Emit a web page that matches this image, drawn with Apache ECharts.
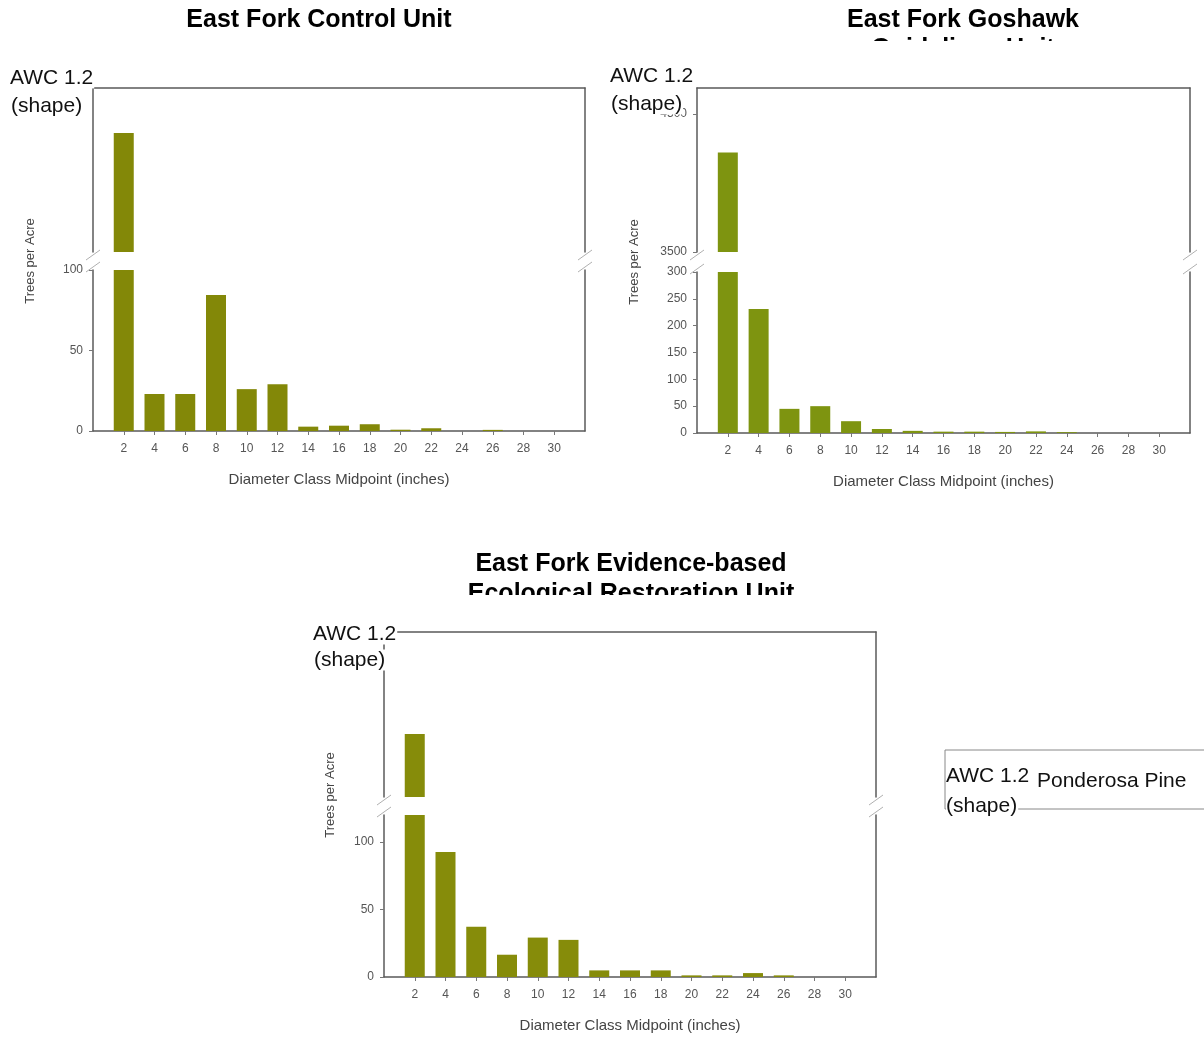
<!DOCTYPE html>
<html><head><meta charset="utf-8">
<script src="https://cdn.jsdelivr.net/npm/echarts@6/dist/echarts.min.js"></script>
<style>html,body{margin:0;padding:0;background:#fff}#c{width:1204px;height:1040px}</style>
</head><body><div id="c"></div>
<script>
// ---- data ----
const diameterClasses = [2, 4, 6, 8, 10, 12, 14, 16, 18, 20, 22, 24, 26, 28, 30];
const controlValues     = [490, 23, 23, 84.5, 26, 29, 2.7, 3.3, 4.2, 0.8, 1.7, 0, 0.7, 0, 0];
const goshawkValues     = [4220, 231, 45, 50, 22, 7.5, 4, 2.5, 2.5, 2, 3, 1.5, 0, 0, 0];
const restorationValues = [353, 92.6, 37.3, 16.5, 29.2, 27.5, 4.9, 4.9, 4.9, 1.2, 1.2, 2.9, 1.2, 0, 0];

const controlLowerTicks = [0, 50, 100];
const controlUpperTicks = [];
const goshawkLowerTicks = [0, 50, 100, 150, 200, 250, 300];
const goshawkUpperTicks = [3500, 4500];
const restorationLowerTicks = [0, 50, 100];
const restorationUpperTicks = [];

const chartTitles = ['East Fork Control Unit', 'East Fork Goshawk\nGuidelines Unit', 'East Fork Evidence-based\nEcological Restoration Unit'];
const seriesName = 'Ponderosa Pine';
const yAxisTitle = 'Trees per Acre';
const xAxisTitle = 'Diameter Class Midpoint (inches)';
const awcText = 'AWC 1.2';
const shapeText = '(shape)';

// ---- layout / style ----
const FONT = '"Liberation Sans", Arial, sans-serif';
const AXIS_COLOR = '#5a5a5a';
const panels = [
  { values: controlValues, lowerRange: [0, 100], upperRange: [200, 600],
    lowerTicks: controlLowerTicks, upperTicks: controlUpperTicks, color: '#838808',
    left: 93, width: 492, upperTop: 88, upperBottom: 252, lowerTop: 270, lowerBottom: 431,
    title: chartTitles[0], titleX: 319, titleY: 6, titleLH: 29,
    yNameX: 30, yNameY: 261, awcX: 10, awcY: 78, shapeY: 106 },
  { values: goshawkValues, lowerRange: [0, 300], upperRange: [3500, 4688],
    lowerTicks: goshawkLowerTicks, upperTicks: goshawkUpperTicks, color: '#7e9410',
    left: 697, width: 493, upperTop: 88, upperBottom: 252, lowerTop: 272, lowerBottom: 433,
    title: chartTitles[1], titleX: 963, titleY: 6, titleLH: 29,
    yNameX: 634, yNameY: 262, awcX: 610, awcY: 76, shapeY: 104 },
  { values: restorationValues, lowerRange: [0, 120], upperRange: [200, 600],
    lowerTicks: restorationLowerTicks, upperTicks: restorationUpperTicks, color: '#868c0a',
    left: 384, width: 492, upperTop: 632, upperBottom: 797, lowerTop: 815, lowerBottom: 977,
    title: chartTitles[2], titleX: 631, titleY: 549, titleLH: 30,
    yNameX: 330, yNameY: 795, awcX: 313, awcY: 634, shapeY: 660 }
];

const grid = [], xAxis = [], yAxis = [], series = [], graphic = [];
const lineStyle = { color: AXIS_COLOR, width: 1.5 };

panels.forEach((p, pi) => {
  const parts = [
    { top: p.upperTop, bottom: p.upperBottom, range: p.upperRange, ticks: p.upperTicks, isLower: false },
    { top: p.lowerTop, bottom: p.lowerBottom, range: p.lowerRange, ticks: p.lowerTicks, isLower: true }
  ];
  parts.forEach(part => {
    const g = grid.length;
    grid.push({ left: p.left, top: part.top, width: p.width, height: part.bottom - part.top });
    xAxis.push({
      type: 'value', gridIndex: g, min: 0, max: 32,
      position: part.isLower ? 'bottom' : 'top',
      axisLine: { show: true, onZero: false, lineStyle },
      axisTick: part.isLower ? { show: true, customValues: diameterClasses, length: 4, lineStyle: { color: '#777' } } : { show: false },
      axisLabel: part.isLower ? {
        show: true, customValues: diameterClasses, margin: 12, fontSize: 12, fontFamily: FONT, color: '#555',
        formatter: v => diameterClasses.indexOf(v) >= 0 ? String(v) : ''
      } : { show: false },
      splitLine: { show: false },
      name: part.isLower ? xAxisTitle : '',
      nameLocation: 'middle', nameGap: 41,
      nameTextStyle: { fontSize: 15, fontFamily: FONT, color: '#444' }
    });
    const hasTicks = part.ticks.length > 0;
    yAxis.push({
      type: 'value', gridIndex: g, min: part.range[0], max: part.range[1], position: 'left',
      axisLine: { show: true, onZero: false, lineStyle },
      axisTick: { show: hasTicks, customValues: part.ticks, length: 4, lineStyle: { color: '#777' } },
      axisLabel: { show: hasTicks, customValues: part.ticks, margin: 10, fontSize: 12, fontFamily: FONT, color: '#555',
        formatter: v => part.ticks.indexOf(v) >= 0 ? String(v) : '' },
      splitLine: { show: false }
    });
    yAxis.push({
      type: 'value', gridIndex: g, min: part.range[0], max: part.range[1], position: 'right',
      axisLine: { show: true, onZero: false, lineStyle },
      axisTick: { show: false }, axisLabel: { show: false }, splitLine: { show: false }
    });
    series.push({
      type: 'bar', name: seriesName, xAxisIndex: g, yAxisIndex: yAxis.length - 2,
      data: diameterClasses.map((d, i) => [d, p.values[i]]),
      barWidth: 20, clip: true, itemStyle: { color: p.color }
    });
  });

  // title
  graphic.push({ type: 'text', z: 50, style: {
    text: p.title, x: p.titleX, y: p.titleY, align: 'center', verticalAlign: 'top',
    fontFamily: FONT, fontWeight: 'bold', fontSize: 25, lineHeight: p.titleLH, fill: '#000' } });
  // y-axis title
  graphic.push({ type: 'text', z: 50, x: p.yNameX, y: p.yNameY, rotation: Math.PI / 2, style: {
    text: yAxisTitle, x: 0, y: 0, align: 'center', verticalAlign: 'middle',
    fontFamily: FONT, fontSize: 13, fill: '#444' } });
  // AWC labels
  graphic.push({ type: 'text', z: 100, style: {
    text: awcText, x: p.awcX, y: p.awcY, verticalAlign: 'middle', fontFamily: FONT, fontSize: 21,
    fill: '#111', backgroundColor: '#fff', padding: [0, 1, 0, 0] } });
  graphic.push({ type: 'text', z: 100, style: {
    text: shapeText, x: p.awcX + 1, y: p.shapeY, verticalAlign: 'middle', fontFamily: FONT, fontSize: 21,
    fill: '#111', backgroundColor: '#fff', padding: [0, 1, 0, 0] } });
  // break marks
  [p.left, p.left + p.width].forEach(x => {
    [p.upperBottom + 3, p.lowerTop - 3].forEach(y => {
      graphic.push({ type: 'line', z: 60, shape: { x1: x - 7, y1: y + 5, x2: x + 7, y2: y - 5 },
        style: { stroke: '#b0b0b0', lineWidth: 1 } });
    });
  });
});

// white areas where the chart images overlap the second title lines
graphic.push({ type: 'rect', z: 70, shape: { x: 600, y: 41, width: 604, height: 20 }, style: { fill: '#fff' } });
graphic.push({ type: 'rect', z: 70, shape: { x: 280, y: 595, width: 650, height: 20 }, style: { fill: '#fff' } });
// legend overlay labels
graphic.push({ type: 'text', z: 100, style: {
  text: awcText, x: 946, y: 776, verticalAlign: 'middle', fontFamily: FONT, fontSize: 21,
  fill: '#111', backgroundColor: '#fff', padding: [3, 8, 3, 0] } });
graphic.push({ type: 'text', z: 100, style: {
  text: shapeText, x: 946, y: 806, verticalAlign: 'middle', fontFamily: FONT, fontSize: 21,
  fill: '#111', backgroundColor: '#fff', padding: [0, 1, 0, 0] } });

const chart = echarts.init(document.getElementById('c'), null, { renderer: 'canvas' });
chart.setOption({
  backgroundColor: '#fff',
  animation: false,
  grid, xAxis, yAxis, series, graphic,
  legend: {
    data: [seriesName], left: 945, top: 750, orient: 'horizontal',
    padding: [21, 80, 17, 65], borderColor: '#888', borderWidth: 1,
    itemWidth: 22, itemHeight: 12, icon: 'rect', selectedMode: false,
    textStyle: { fontFamily: FONT, fontSize: 21, color: '#111' }
  }
});
</script></body></html>
